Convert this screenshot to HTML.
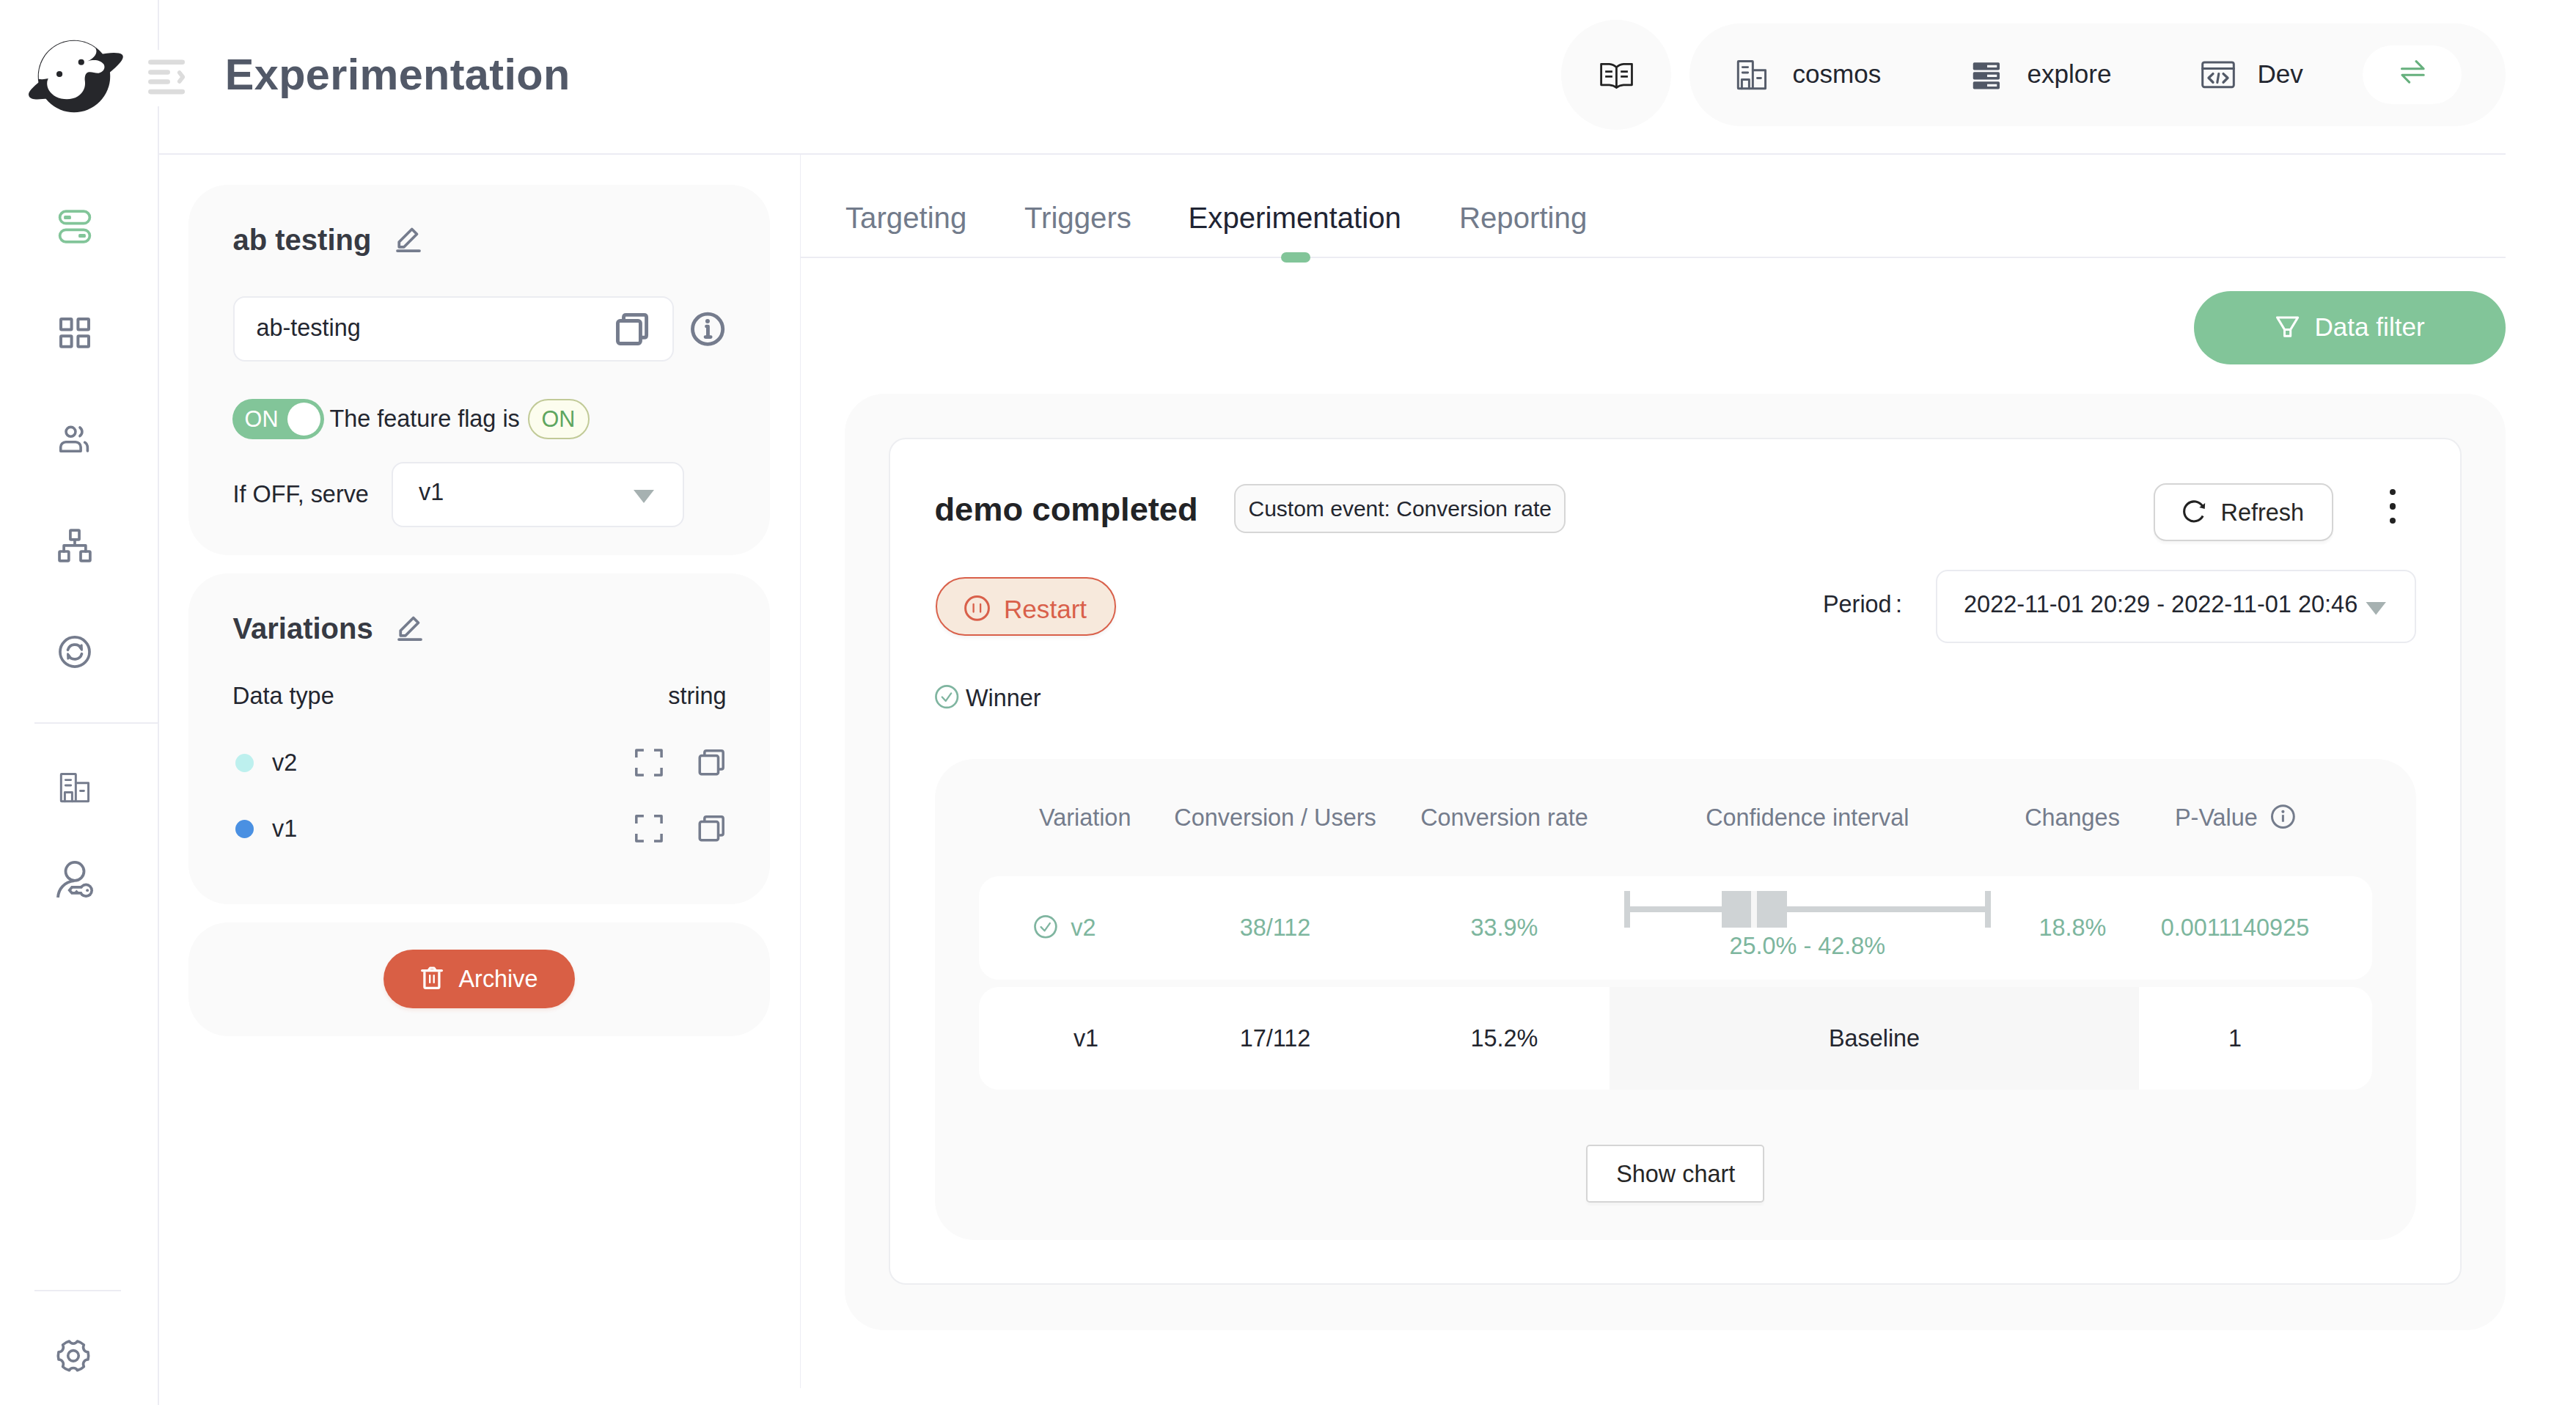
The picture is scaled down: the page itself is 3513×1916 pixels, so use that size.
<!DOCTYPE html>
<html lang="en">
<head>
<meta charset="utf-8">
<title>Experimentation</title>
<style>
html,body{margin:0;padding:0;background:#fff;}
body{width:3513px;height:1916px;position:relative;overflow:hidden;font-family:"Liberation Sans", Arial, sans-serif;}
.t{position:absolute;white-space:nowrap;font-family:"Liberation Sans", Arial, sans-serif;}
.b{position:absolute;box-sizing:border-box;}
svg{overflow:visible;}
</style>
</head>
<body>
<div class="b" style="left:215.00px;top:0.00px;width:2.00px;height:1916.00px;background:#ececf3;border-radius:0px;"></div>
<div class="b" style="left:200.00px;top:68.00px;width:56.00px;height:77.00px;background:#fff;border-radius:0px;"></div>
<div class="b" style="left:47.00px;top:985.00px;width:169.00px;height:2.00px;background:#ececf3;border-radius:0px;"></div>
<div class="b" style="left:47.00px;top:1759.00px;width:118.00px;height:2.00px;background:#ececf3;border-radius:0px;"></div>
<div class="t" style="left:306.80px;top:72px;font-size:59.4px;line-height:59.4px;color:#525968;font-weight:700;letter-spacing:0.36px;">Experimentation</div>
<div class="b" style="left:216.00px;top:209.00px;width:3201.00px;height:2.00px;background:#ececf3;border-radius:0px;"></div>
<div class="b" style="left:2129.00px;top:27.00px;width:150.00px;height:150.00px;background:#fafafa;border-radius:75px;"></div>
<div class="b" style="left:2304.00px;top:32.00px;width:1113.00px;height:140.00px;background:#fafafa;border-radius:70px;"></div>
<div class="b" style="left:3221.50px;top:62.00px;width:135.50px;height:80.00px;background:#fff;border-radius:40px;"></div>
<div class="t" style="left:2444.50px;top:83px;font-size:35.1px;line-height:35.1px;color:#23262f;font-weight:400;">cosmos</div>
<div class="t" style="left:2764.50px;top:83px;font-size:35.1px;line-height:35.1px;color:#23262f;font-weight:400;">explore</div>
<div class="t" style="left:3078.50px;top:83px;font-size:35.1px;line-height:35.1px;color:#23262f;font-weight:400;">Dev</div>
<div class="b" style="left:1090.50px;top:210.00px;width:1.50px;height:1683.00px;background:#ececf3;border-radius:0px;"></div>
<div class="b" style="left:257.00px;top:252.00px;width:793.00px;height:504.50px;background:#fafafa;border-radius:54px;"></div>
<div class="t" style="left:317.50px;top:307px;font-size:40px;line-height:40px;color:#373a43;font-weight:700;">ab testing</div>
<div class="b" style="left:317.80px;top:404.30px;width:601.40px;height:89.00px;background:#fff;border-radius:16px;border:2px solid #ebecf1;"></div>
<div class="t" style="left:349.50px;top:431px;font-size:32.4px;line-height:32.4px;color:#23262f;font-weight:400;">ab-testing</div>
<div class="b" style="left:317.00px;top:544.00px;width:125.00px;height:55.00px;background:#82c599;border-radius:27.5px;"></div>
<div class="b" style="left:392.00px;top:549.25px;width:44.50px;height:44.50px;background:#fff;border-radius:23px;"></div>
<div class="t" style="left:333.60px;top:556px;font-size:30.6px;line-height:30.6px;color:#fff;font-weight:400;">ON</div>
<div class="t" style="left:449.50px;top:555px;font-size:32.4px;line-height:32.4px;color:#23262f;font-weight:400;">The feature flag is</div>
<div class="b" style="left:719.50px;top:544.25px;width:84.30px;height:54.50px;background:#fcfdee;border-radius:27.5px;border:2px solid #c1ca97;"></div>
<div class="t" style="left:761.40px;transform:translateX(-50%);top:556px;font-size:30.6px;line-height:30.6px;color:#5ea65f;font-weight:400;">ON</div>
<div class="t" style="left:317.50px;top:658px;font-size:32.4px;line-height:32.4px;color:#23262f;font-weight:400;">If OFF, serve</div>
<div class="b" style="left:533.50px;top:629.60px;width:399.00px;height:89.10px;background:#fff;border-radius:16px;border:2px solid #eaebf0;"></div>
<div class="t" style="left:571.00px;top:655px;font-size:32.4px;line-height:32.4px;color:#23262f;font-weight:400;">v1</div>
<svg class="b" style="left:864.00px;top:668.00px;" width="28" height="18" viewBox="0 0 28 18"><path d="M0,0 H28 L14,18 Z" fill="#a6b1b1"/></svg>
<div class="b" style="left:257.00px;top:782.00px;width:793.00px;height:450.50px;background:#fafafa;border-radius:54px;"></div>
<div class="t" style="left:317.50px;top:837px;font-size:40px;line-height:40px;color:#373a43;font-weight:700;">Variations</div>
<div class="t" style="left:317.00px;top:933px;font-size:32.4px;line-height:32.4px;color:#23262f;font-weight:400;">Data type</div>
<div class="t" style="left:990.50px;transform:translateX(-100%);top:933px;font-size:32.4px;line-height:32.4px;color:#23262f;font-weight:400;">string</div>
<div class="b" style="left:321.25px;top:1028.00px;width:24.50px;height:24.50px;background:#bdf0ee;border-radius:13px;"></div>
<div class="t" style="left:371.00px;top:1024px;font-size:32.4px;line-height:32.4px;color:#23262f;font-weight:400;">v2</div>
<div class="b" style="left:321.25px;top:1118.00px;width:24.50px;height:24.50px;background:#4a90e2;border-radius:13px;"></div>
<div class="t" style="left:371.00px;top:1114px;font-size:32.4px;line-height:32.4px;color:#23262f;font-weight:400;">v1</div>
<div class="b" style="left:257.00px;top:1258.00px;width:793.00px;height:155.00px;background:#fafafa;border-radius:54px;"></div>
<div class="b" style="left:523.00px;top:1294.50px;width:261.00px;height:80.50px;background:#d95f45;border-radius:40.3px;box-shadow:0 3px 5px rgba(217,95,69,.12);"></div>
<div class="t" style="left:625.50px;top:1319px;font-size:32.4px;line-height:32.4px;color:#fff;font-weight:400;">Archive</div>
<div class="t" style="left:1153.00px;top:278px;font-size:40.2px;line-height:40.2px;color:#727b8b;font-weight:400;">Targeting</div>
<div class="t" style="left:1397.00px;top:278px;font-size:40.2px;line-height:40.2px;color:#727b8b;font-weight:400;">Triggers</div>
<div class="t" style="left:1620.50px;top:278px;font-size:40.2px;line-height:40.2px;color:#1f2433;font-weight:400;">Experimentation</div>
<div class="t" style="left:1990.00px;top:278px;font-size:40.2px;line-height:40.2px;color:#727b8b;font-weight:400;">Reporting</div>
<div class="b" style="left:1092.00px;top:349.50px;width:2325.00px;height:2.00px;background:#ececf3;border-radius:0px;"></div>
<div class="b" style="left:1747.00px;top:344.00px;width:40.00px;height:13.50px;background:#82c599;border-radius:7px;"></div>
<div class="b" style="left:2992.00px;top:397.00px;width:425.00px;height:100.00px;background:#82c599;border-radius:50px;"></div>
<div class="t" style="left:3156.50px;top:428px;font-size:35.1px;line-height:35.1px;color:#fff;font-weight:400;">Data filter</div>
<div class="b" style="left:1152.00px;top:537.00px;width:2265.00px;height:1276.50px;background:#fafafa;border-radius:54px;"></div>
<div class="b" style="left:1212.10px;top:596.80px;width:2144.60px;height:1154.80px;background:#fff;border-radius:23px;border:2px solid #edeef1;"></div>
<div class="t" style="left:1274.50px;top:672px;font-size:45.2px;line-height:45.2px;color:#222326;font-weight:700;">demo completed</div>
<div class="b" style="left:1682.50px;top:659.50px;width:452.50px;height:67.00px;background:#fafafa;border-radius:16px;border:2px solid #d6d6d6;"></div>
<div class="t" style="left:1702.50px;top:679px;font-size:30px;line-height:30px;color:#23262f;font-weight:400;">Custom event: Conversion rate</div>
<div class="b" style="left:2936.50px;top:659.30px;width:245.10px;height:79.20px;background:#fff;border-radius:17px;border:2px solid #d5d5d5;box-shadow:0 4px 3px rgba(0,0,0,.03);"></div>
<div class="t" style="left:3028.50px;top:683px;font-size:32.4px;line-height:32.4px;color:#262626;font-weight:400;">Refresh</div>
<div class="b" style="left:3258.90px;top:666.50px;width:8.40px;height:8.40px;background:#222;border-radius:5px;"></div>
<div class="b" style="left:3258.90px;top:686.20px;width:8.40px;height:8.40px;background:#222;border-radius:5px;"></div>
<div class="b" style="left:3258.90px;top:705.90px;width:8.40px;height:8.40px;background:#222;border-radius:5px;"></div>
<div class="b" style="left:1275.50px;top:787.00px;width:246.30px;height:79.80px;background:#f7e9dc;border-radius:40px;border:2px solid #d9604a;box-shadow:0 3px 5px rgba(0,0,0,.05);"></div>
<div class="t" style="left:1369.00px;top:813px;font-size:35.1px;line-height:35.1px;color:#d9604a;font-weight:400;">Restart</div>
<div class="t" style="left:2486.00px;top:808px;font-size:32.4px;line-height:32.4px;color:#23262f;font-weight:400;">Period</div>
<div class="t" style="left:2585.00px;top:808px;font-size:32.4px;line-height:32.4px;color:#23262f;font-weight:400;">:</div>
<div class="b" style="left:2640.20px;top:776.70px;width:654.60px;height:100.20px;background:#fff;border-radius:16px;border:2px solid #eaebf0;"></div>
<div class="t" style="left:2678.00px;top:808px;font-size:32.5px;line-height:32.5px;color:#23262f;font-weight:400;">2022-11-01 20:29 - 2022-11-01 20:46</div>
<svg class="b" style="left:3225.60px;top:821.00px;" width="28.4" height="17.6" viewBox="0 0 28 18"><path d="M0,0 H28 L14,18 Z" fill="#a6b1b1"/></svg>
<div class="t" style="left:1317.00px;top:936px;font-size:32.4px;line-height:32.4px;color:#23262f;font-weight:400;">Winner</div>
<div class="b" style="left:1275.00px;top:1034.70px;width:2020.00px;height:656.00px;background:#fafafa;border-radius:54px;"></div>
<div class="t" style="left:1479.70px;transform:translateX(-50%);top:1099px;font-size:32.4px;line-height:32.4px;color:#747c8c;font-weight:400;">Variation</div>
<div class="t" style="left:1739.00px;transform:translateX(-50%);top:1099px;font-size:32.4px;line-height:32.4px;color:#747c8c;font-weight:400;">Conversion / Users</div>
<div class="t" style="left:2051.50px;transform:translateX(-50%);top:1099px;font-size:32.4px;line-height:32.4px;color:#747c8c;font-weight:400;">Conversion rate</div>
<div class="t" style="left:2464.80px;transform:translateX(-50%);top:1099px;font-size:32.4px;line-height:32.4px;color:#747c8c;font-weight:400;">Confidence interval</div>
<div class="t" style="left:2826.00px;transform:translateX(-50%);top:1099px;font-size:32.4px;line-height:32.4px;color:#747c8c;font-weight:400;">Changes</div>
<div class="t" style="left:2966.00px;top:1099px;font-size:32.4px;line-height:32.4px;color:#747c8c;font-weight:400;">P-Value</div>
<div class="b" style="left:1334.50px;top:1194.50px;width:1900.30px;height:141.30px;background:#fff;border-radius:27px;"></div>
<div class="t" style="left:1460.20px;top:1249px;font-size:32.4px;line-height:32.4px;color:#7db69e;font-weight:400;">v2</div>
<div class="t" style="left:1739.00px;transform:translateX(-50%);top:1249px;font-size:32.4px;line-height:32.4px;color:#7db69e;font-weight:400;">38/112</div>
<div class="t" style="left:2051.50px;transform:translateX(-50%);top:1249px;font-size:32.4px;line-height:32.4px;color:#7db69e;font-weight:400;">33.9%</div>
<div class="t" style="left:2826.50px;transform:translateX(-50%);top:1249px;font-size:32.4px;line-height:32.4px;color:#7db69e;font-weight:400;">18.8%</div>
<div class="t" style="left:3048.00px;transform:translateX(-50%);top:1249px;font-size:32.4px;line-height:32.4px;color:#7db69e;font-weight:400;">0.0011140925</div>
<div class="t" style="left:2464.80px;transform:translateX(-50%);top:1274px;font-size:32.4px;line-height:32.4px;color:#7db69e;font-weight:400;">25.0% - 42.8%</div>
<div class="b" style="left:2215.00px;top:1215.00px;width:8.00px;height:49.80px;background:#cfd3d5;border-radius:0px;"></div>
<div class="b" style="left:2707.00px;top:1215.00px;width:8.00px;height:49.80px;background:#cfd3d5;border-radius:0px;"></div>
<div class="b" style="left:2215.00px;top:1236.00px;width:500.00px;height:8.00px;background:#cfd3d5;border-radius:0px;"></div>
<div class="b" style="left:2348.00px;top:1215.00px;width:89.00px;height:49.80px;background:#cfd3d5;border-radius:0px;"></div>
<div class="b" style="left:2387.80px;top:1215.00px;width:8.00px;height:49.80px;background:#f6f6f6;border-radius:0px;"></div>
<div class="b" style="left:1334.50px;top:1345.60px;width:1900.30px;height:140.50px;background:#fff;border-radius:27px;"></div>
<div class="b" style="left:2195.00px;top:1345.60px;width:721.70px;height:140.50px;background:#f7f7f7;border-radius:0px;"></div>
<div class="t" style="left:1481.00px;transform:translateX(-50%);top:1400px;font-size:32.4px;line-height:32.4px;color:#23262f;font-weight:400;">v1</div>
<div class="t" style="left:1739.00px;transform:translateX(-50%);top:1400px;font-size:32.4px;line-height:32.4px;color:#23262f;font-weight:400;">17/112</div>
<div class="t" style="left:2051.50px;transform:translateX(-50%);top:1400px;font-size:32.4px;line-height:32.4px;color:#23262f;font-weight:400;">15.2%</div>
<div class="t" style="left:2556.00px;transform:translateX(-50%);top:1400px;font-size:32.4px;line-height:32.4px;color:#23262f;font-weight:400;">Baseline</div>
<div class="t" style="left:3048.00px;transform:translateX(-50%);top:1400px;font-size:32.4px;line-height:32.4px;color:#23262f;font-weight:400;">1</div>
<div class="b" style="left:2163.30px;top:1561.20px;width:242.40px;height:79.20px;background:#fff;border-radius:5px;border:2px solid #d5d5d5;box-shadow:0 4px 3px rgba(0,0,0,.025);"></div>
<div class="t" style="left:2285.20px;transform:translateX(-50%);top:1585px;font-size:32.4px;line-height:32.4px;color:#262626;font-weight:400;">Show chart</div>
<svg class="b" style="left:30.00px;top:45.00px;" width="230" height="120" viewBox="0 0 2576 1344">
<circle cx="795" cy="660" r="552" fill="#26272b"/>
<path d="M1180,330 C1320,300 1480,290 1530,330 C1575,380 1500,470 1330,610 Z" fill="#26272b"/>
<path d="M270,740 C180,820 80,900 105,960 C130,1030 260,1015 400,1000 Z" fill="#26272b"/>
<path d="M256,702 A541,541 0 0 1 1122,229 C1166,300 1110,380 1000,430 C1100,400 1200,410 1250,480 C1280,540 1240,600 1170,612 C1110,615 1060,585 1010,600 C960,620 955,680 962,740 C970,820 950,900 850,970 C760,1025 620,1025 520,975 C430,925 370,840 385,740 L400,695 C350,706 300,712 256,702 Z" fill="#fff"/>
<circle cx="905" cy="445" r="46" fill="#26272b"/>
<circle cx="572" cy="627" r="46" fill="#26272b"/>
<g fill="#dcdcdc">
<rect x="1928" y="408" width="559" height="74" rx="37"/>
<rect x="1928" y="562" width="334" height="74" rx="37"/>
<rect x="1928" y="708" width="334" height="74" rx="37"/>
<rect x="1928" y="860" width="559" height="74" rx="37"/>
</g>
<path d="M2405,605 L2458,672 L2405,740" fill="none" stroke="#dcdcdc" stroke-width="62" stroke-linecap="round" stroke-linejoin="round"/>
</svg>
<svg class="b" style="left:0.00px;top:0.00px;" width="216" height="400" viewBox="0 0 216 400">
<rect x="81.6" y="288.2" width="40.8" height="16.5" rx="8.25" fill="none" stroke="#82c599" stroke-width="3.7" stroke-linecap="round" stroke-linejoin="round"/>
<rect x="81.6" y="313.4" width="40.8" height="16.4" rx="8.2" fill="none" stroke="#82c599" stroke-width="3.7" stroke-linecap="round" stroke-linejoin="round"/>
<rect x="87.1" y="294.1" width="9.8" height="4.9" rx="1.6" fill="#82c599"/>
<rect x="107.1" y="319.1" width="9.8" height="4.9" rx="1.6" fill="#82c599"/>
</svg>
<svg class="b" style="left:0.00px;top:400.00px;" width="216" height="100" viewBox="0 0 216 100"><g transform="translate(0,-400)"><rect x="83" y="435" width="14.6" height="14.4" rx="1" fill="none" stroke="#757c8d" stroke-width="4" stroke-linecap="round" stroke-linejoin="round"/><rect x="106.4" y="435" width="14.6" height="14.4" rx="1" fill="none" stroke="#757c8d" stroke-width="4" stroke-linecap="round" stroke-linejoin="round"/><rect x="83" y="458.3" width="14.6" height="14.4" rx="1" fill="none" stroke="#757c8d" stroke-width="4" stroke-linecap="round" stroke-linejoin="round"/><rect x="106.4" y="458.3" width="14.6" height="14.4" rx="1" fill="none" stroke="#757c8d" stroke-width="4" stroke-linecap="round" stroke-linejoin="round"/></g></svg>
<svg class="b" style="left:52.00px;top:570.00px;" width="100" height="55" viewBox="0 0 2555 1405">
<circle cx="1137" cy="480" r="165" fill="none" stroke="#757c8d" stroke-width="92" stroke-linecap="round" stroke-linejoin="round"/>
<path d="M785,1155 L785,1015 A180,180 0 0 1 965,835 L1305,835 A180,180 0 0 1 1485,1015 L1485,1155 Z" fill="none" stroke="#757c8d" stroke-width="92" stroke-linecap="round" stroke-linejoin="round"/>
<path d="M1455,332 A182,182 0 0 1 1455,628" fill="none" stroke="#757c8d" stroke-width="92" stroke-linecap="round" stroke-linejoin="round"/>
<path d="M1625,850 Q1722,905 1722,1040 L1722,1150" fill="none" stroke="#757c8d" stroke-width="92" stroke-linecap="round" stroke-linejoin="round"/>
</svg>
<svg class="b" style="left:52.00px;top:715.00px;" width="100" height="55" viewBox="0 0 2555 1405">
<rect x="1122" y="207" width="310" height="326" rx="22" fill="none" stroke="#757c8d" stroke-width="95" stroke-linecap="round" stroke-linejoin="round"/>
<rect x="742" y="945" width="326" height="328" rx="28" fill="none" stroke="#757c8d" stroke-width="95" stroke-linecap="round" stroke-linejoin="round"/>
<rect x="1482" y="945" width="330" height="328" rx="28" fill="none" stroke="#757c8d" stroke-width="95" stroke-linecap="round" stroke-linejoin="round"/>
<path d="M1277,533 V740 M897,945 V740 H1657 V945" fill="none" stroke="#757c8d" stroke-width="95" stroke-linecap="round" stroke-linejoin="round" />
</svg>
<svg class="b" style="left:52.00px;top:861.00px;" width="100" height="55" viewBox="0 0 2555 1405">
<circle cx="1277" cy="715" r="512" fill="none" stroke="#757c8d" stroke-width="95" stroke-linecap="round" stroke-linejoin="round"/>
<path d="M1035,645 A255,255 0 0 1 1500,590" fill="none" stroke="#757c8d" stroke-width="95" stroke-linecap="round" stroke-linejoin="round"/>
<path d="M1520,785 A255,255 0 0 1 1055,840" fill="none" stroke="#757c8d" stroke-width="95" stroke-linecap="round" stroke-linejoin="round"/>
<path d="M1515,480 L1522,650 L1440,540 Z" fill="#757c8d" stroke="#757c8d" stroke-width="70" stroke-linejoin="round"/>
<path d="M1040,950 L1033,780 L1115,890 Z" fill="#757c8d" stroke="#757c8d" stroke-width="70" stroke-linejoin="round"/>
</svg>
<svg class="b" style="left:52.00px;top:1046.00px;" width="100" height="55" viewBox="0 0 2555 1405">
<rect x="800" y="243" width="512" height="950" rx="18" fill="none" stroke="#757c8d" stroke-width="76" stroke-linecap="round" stroke-linejoin="round"/>
<path d="M1312,555 H1752 V1193 H1312" fill="none" stroke="#757c8d" stroke-width="76" stroke-linecap="round" stroke-linejoin="round"/>
<path d="M955,450 H1140 M955,640 H1140 M1470,830 H1595" fill="none" stroke="#757c8d" stroke-width="76" stroke-linecap="round" stroke-linejoin="round"/>
<path d="M930,1193 V880 H1185 V1193" fill="none" stroke="#757c8d" stroke-width="76" stroke-linecap="round" stroke-linejoin="round"/>
</svg>
<svg class="b" style="left:2338.95px;top:73.90px;" width="100" height="55" viewBox="0 0 2555 1405">
<rect x="800" y="243" width="512" height="950" rx="18" fill="none" stroke="#565d6b" stroke-width="76" stroke-linecap="round" stroke-linejoin="round"/>
<path d="M1312,555 H1752 V1193 H1312" fill="none" stroke="#565d6b" stroke-width="76" stroke-linecap="round" stroke-linejoin="round"/>
<path d="M955,450 H1140 M955,640 H1140 M1470,830 H1595" fill="none" stroke="#565d6b" stroke-width="76" stroke-linecap="round" stroke-linejoin="round"/>
<path d="M930,1193 V880 H1185 V1193" fill="none" stroke="#565d6b" stroke-width="76" stroke-linecap="round" stroke-linejoin="round"/>
</svg>
<svg class="b" style="left:62.00px;top:1165.00px;" width="80" height="65" viewBox="0 0 1729 1405">
<circle cx="865" cy="505" r="270" fill="none" stroke="#757c8d" stroke-width="82" stroke-linecap="round" stroke-linejoin="round"/>
<path d="M367,1272 C385,1010 560,815 850,782" fill="none" stroke="#757c8d" stroke-width="84" stroke-linecap="butt" stroke-linejoin="round"/>
<circle cx="1195" cy="1065" r="210" fill="#757c8d"/>
<path d="M1100,930 H762 L655,1060 L762,1185 H1100 Z" fill="#757c8d"/>
<circle cx="1195" cy="1065" r="130" fill="#fff"/>
<path d="M1150,1010 H800 L760,1058 L800,1105 H1150 Z" fill="#fff"/>
<path d="M858,1107 L915,1046 L977,1107 Z" fill="#757c8d"/>
<circle cx="1235" cy="1062" r="43" fill="#757c8d"/>
</svg>
<svg class="b" style="left:50.00px;top:1821.00px;" width="100" height="55" viewBox="0 0 2555 1405">
<path d="M1133.7,203.8 A528,528 0 0 0 908.5,333.8 A165,165 0 0 1 765.3,582.0 A528,528 0 0 0 765.3,842.0 A165,165 0 0 1 908.5,1090.2 A528,528 0 0 0 1133.7,1220.2 A165,165 0 0 1 1420.3,1220.2 A528,528 0 0 0 1645.5,1090.2 A165,165 0 0 1 1788.7,842.0 A528,528 0 0 0 1788.7,582.0 A165,165 0 0 1 1645.5,333.8 A528,528 0 0 0 1420.3,203.8 A165,165 0 0 1 1133.7,203.8 Z" fill="none" stroke="#757c8d" stroke-width="92" stroke-linecap="round" stroke-linejoin="round"/>
<circle cx="1277" cy="712" r="186" fill="none" stroke="#757c8d" stroke-width="92" stroke-linecap="round" stroke-linejoin="round"/>
</svg>
<svg class="b" style="left:2160.00px;top:70.00px;" width="90" height="65" viewBox="0 0 1945 1405">
<path d="M960,470 Q880,385 750,375 H510 V990 H750 Q880,1000 960,1070 Q1040,1000 1170,990 H1415 V375 H1170 Q1040,385 960,470 V1070" fill="none" stroke="#222" stroke-width="60" stroke-linecap="round" stroke-linejoin="round"/>
<path d="M905,1045 L960,1102 L1015,1045 Z" fill="#222"/>
<path d="M630,595 H840 M630,745 H840 M1085,595 H1295 M1085,745 H1295" fill="none" stroke="#222" stroke-width="60"/>
</svg>
<svg class="b" style="left:2100.00px;top:0.00px;" width="644" height="351" viewBox="0 0 2576 1404"><rect x="2363" y="341" width="145" height="41" rx="7" fill="#515866"/><rect x="2440" y="355" width="53" height="13" fill="#fafafa"/><rect x="2363" y="393" width="145" height="41" rx="7" fill="#515866"/><rect x="2440" y="407" width="53" height="13" fill="#fafafa"/><rect x="2363" y="445" width="145" height="41" rx="7" fill="#515866"/><rect x="2440" y="459" width="53" height="13" fill="#fafafa"/></svg>
<svg class="b" style="left:2980.00px;top:70.00px;" width="90" height="65" viewBox="0 0 1945 1405">
<rect x="512" y="322" width="921" height="731" rx="58" fill="none" stroke="#535a68" stroke-width="65" stroke-linecap="round" stroke-linejoin="round"/>
<path d="M512,510 H1433" fill="none" stroke="#535a68" stroke-width="65" stroke-linecap="round" stroke-linejoin="round"/>
<path d="M820,662 L692,785 L820,912 M1125,662 L1253,785 L1125,912" fill="none" stroke="#535a68" stroke-width="74" stroke-linecap="round" stroke-linejoin="round"/>
<path d="M990,660 L947,920" fill="none" stroke="#535a68" stroke-width="68" stroke-linecap="round" stroke-linejoin="round"/>
</svg>
<svg class="b" style="left:3245.00px;top:65.00px;" width="90" height="65" viewBox="0 0 1945 1405">
<path d="M658,622 H1300 L1082,404" fill="none" stroke="#66b07d" stroke-width="66" stroke-linecap="round" stroke-linejoin="round"/>
<path d="M1302,805 H668 L878,1018" fill="none" stroke="#66b07d" stroke-width="66" stroke-linecap="round" stroke-linejoin="round"/>
</svg>
<svg class="b" style="left:216.00px;top:230.00px;" width="644" height="351" viewBox="0 0 2576 1404">
<path d="M1383,330 L1410,357 L1340,427 L1313,427 L1313,400 Z" fill="none" stroke="#757c8d" stroke-width="15" stroke-linecap="round" stroke-linejoin="round"/>
<path d="M1304,448 H1424" fill="none" stroke="#757c8d" stroke-width="15" stroke-linecap="round" stroke-linejoin="round"/>
</svg>
<svg class="b" style="left:218.00px;top:760.00px;" width="644" height="351" viewBox="0 0 2576 1404">
<path d="M1383,330 L1410,357 L1340,427 L1313,427 L1313,400 Z" fill="none" stroke="#757c8d" stroke-width="15" stroke-linecap="round" stroke-linejoin="round"/>
<path d="M1304,448 H1424" fill="none" stroke="#757c8d" stroke-width="15" stroke-linecap="round" stroke-linejoin="round"/>
</svg>
<svg class="b" style="left:825.00px;top:410.00px;" width="180" height="80" viewBox="0 0 2576 1145">
<path d="M365,358 V322 Q365,277 410,277 H765 Q810,277 810,322 V675 Q810,720 765,720 H728" fill="none" stroke="#757c8d" stroke-width="70" stroke-linecap="round" stroke-linejoin="round"/>
<rect x="250" y="393" width="443" height="444" rx="45" fill="none" stroke="#757c8d" stroke-width="70" stroke-linecap="round" stroke-linejoin="round"/>

<circle cx="2005" cy="555" r="295" fill="none" stroke="#757c8d" stroke-width="70" stroke-linecap="round" stroke-linejoin="round"/>
<circle cx="2003" cy="400" r="43" fill="#757c8d"/>
<path d="M1983,502 H2010 V708 M1962,710 H2063" fill="none" stroke="#757c8d" stroke-width="70" stroke-linecap="round" stroke-linejoin="round"/>
</svg>
<svg class="b" style="left:939.71px;top:1007.87px;" width="146.86363636363637" height="65.27272727272728" viewBox="0 0 2576 1145">
<path d="M365,358 V322 Q365,277 410,277 H765 Q810,277 810,322 V675 Q810,720 765,720 H728" fill="none" stroke="#757c8d" stroke-width="62" stroke-linecap="round" stroke-linejoin="round"/>
<rect x="250" y="393" width="443" height="444" rx="45" fill="none" stroke="#757c8d" stroke-width="62" stroke-linecap="round" stroke-linejoin="round"/>
</svg>
<svg class="b" style="left:939.71px;top:1097.77px;" width="146.86363636363637" height="65.27272727272728" viewBox="0 0 2576 1145">
<path d="M365,358 V322 Q365,277 410,277 H765 Q810,277 810,322 V675 Q810,720 765,720 H728" fill="none" stroke="#757c8d" stroke-width="62" stroke-linecap="round" stroke-linejoin="round"/>
<rect x="250" y="393" width="443" height="444" rx="45" fill="none" stroke="#757c8d" stroke-width="62" stroke-linecap="round" stroke-linejoin="round"/>
</svg>
<svg class="b" style="left:0.00px;top:0.00px;" width="10" height="10" viewBox="0 0 10 10"><g transform="translate(866,1021.1)" fill="none" stroke="#757c8d" stroke-width="3.5" stroke-linecap="butt" stroke-linejoin="round"><path d="M1.8,11.9 V1.8 H11.9 M26,1.8 H36.1 V11.9 M36.1,25.9 V36 H26 M11.9,36 H1.8 V25.9"/></g><g transform="translate(866,1111.0)" fill="none" stroke="#757c8d" stroke-width="3.5" stroke-linecap="butt" stroke-linejoin="round"><path d="M1.8,11.9 V1.8 H11.9 M26,1.8 H36.1 V11.9 M36.1,25.9 V36 H26 M11.9,36 H1.8 V25.9"/></g></svg>
<svg class="b" style="left:560.00px;top:1300.00px;" width="200" height="70" viewBox="0 0 2576 902">
<path d="M201,304 H546" fill="none" stroke="#fff" stroke-width="42" stroke-linecap="round" stroke-linejoin="round"/>
<path d="M316,292 L340,258 H412 L436,292" fill="none" stroke="#fff" stroke-width="40" stroke-linecap="round" stroke-linejoin="round"/>
<path d="M243,325 V590 Q243,611 264,611 H480 Q501,611 501,590 V325" fill="none" stroke="#fff" stroke-width="42" stroke-linecap="butt" stroke-linejoin="round"/>
<path d="M337,378 V526 M408,378 V526" fill="none" stroke="#fff" stroke-width="31" stroke-linecap="butt" stroke-linejoin="round"/>
</svg>
<svg class="b" style="left:0.00px;top:0.00px;" width="10" height="10" viewBox="0 0 10 10"><g transform="translate(3104,431.4)" fill="none" stroke="#fff" stroke-width="3" stroke-linecap="round" stroke-linejoin="round">
<path d="M1.5,1.5 H29.7 L19.7,18 V26.8 H11.5 V18 Z M11.5,18 H19.7"/></g></svg>
<svg class="b" style="left:2930.00px;top:650.00px;" width="400" height="100" viewBox="0 0 2576 644">
<path d="M475.3,261.5 A87,87 0 1 0 477.5,345" fill="none" stroke="#222" stroke-width="20" stroke-linecap="butt" stroke-linejoin="round"/>
<path d="M497,232 L494,283 L446,271 Z" fill="#222"/>
</svg>
<svg class="b" style="left:0.00px;top:0.00px;" width="10" height="10" viewBox="0 0 10 10"><g transform="translate(1315,812)" fill="none" stroke="#d9604a" stroke-width="3" stroke-linecap="round" stroke-linejoin="round">
<circle cx="17.5" cy="17.4" r="15.9"/><path d="M12.6,11.8 V22.6 M22.1,11.8 V22.6" stroke-width="2.3"/></g></svg>
<svg class="b" style="left:0.00px;top:0.00px;" width="10" height="10" viewBox="0 0 10 10"><g transform="translate(1275.1,934.1)" fill="none" stroke="#7fb5a0" stroke-width="2.7" stroke-linecap="round" stroke-linejoin="round">
<circle cx="16.1" cy="16.1" r="14.750000000000002"/><path d="M9.66,16.42 L14.65,21.74 L22.06,11.27" stroke-width="2.3"/></g><g transform="translate(1410.1,1248.0)" fill="none" stroke="#7fb5a0" stroke-width="2.7" stroke-linecap="round" stroke-linejoin="round">
<circle cx="15.8" cy="15.8" r="14.450000000000001"/><path d="M9.48,16.12 L14.38,21.33 L21.65,11.06" stroke-width="2.3"/></g></svg>
<svg class="b" style="left:0.00px;top:0.00px;" width="10" height="10" viewBox="0 0 10 10"><g transform="translate(3097,1097.2)">
<circle cx="16.4" cy="16.4" r="14.9" fill="none" stroke="#747c8c" stroke-width="3" stroke-linecap="round" stroke-linejoin="round"/>
<circle cx="16.4" cy="9.6" r="2.1" fill="#747c8c"/>
<path d="M16.4,14 V23.5" fill="none" stroke="#747c8c" stroke-width="3" stroke-linecap="butt" stroke-linejoin="round"/></g></svg>
</body>
</html>
